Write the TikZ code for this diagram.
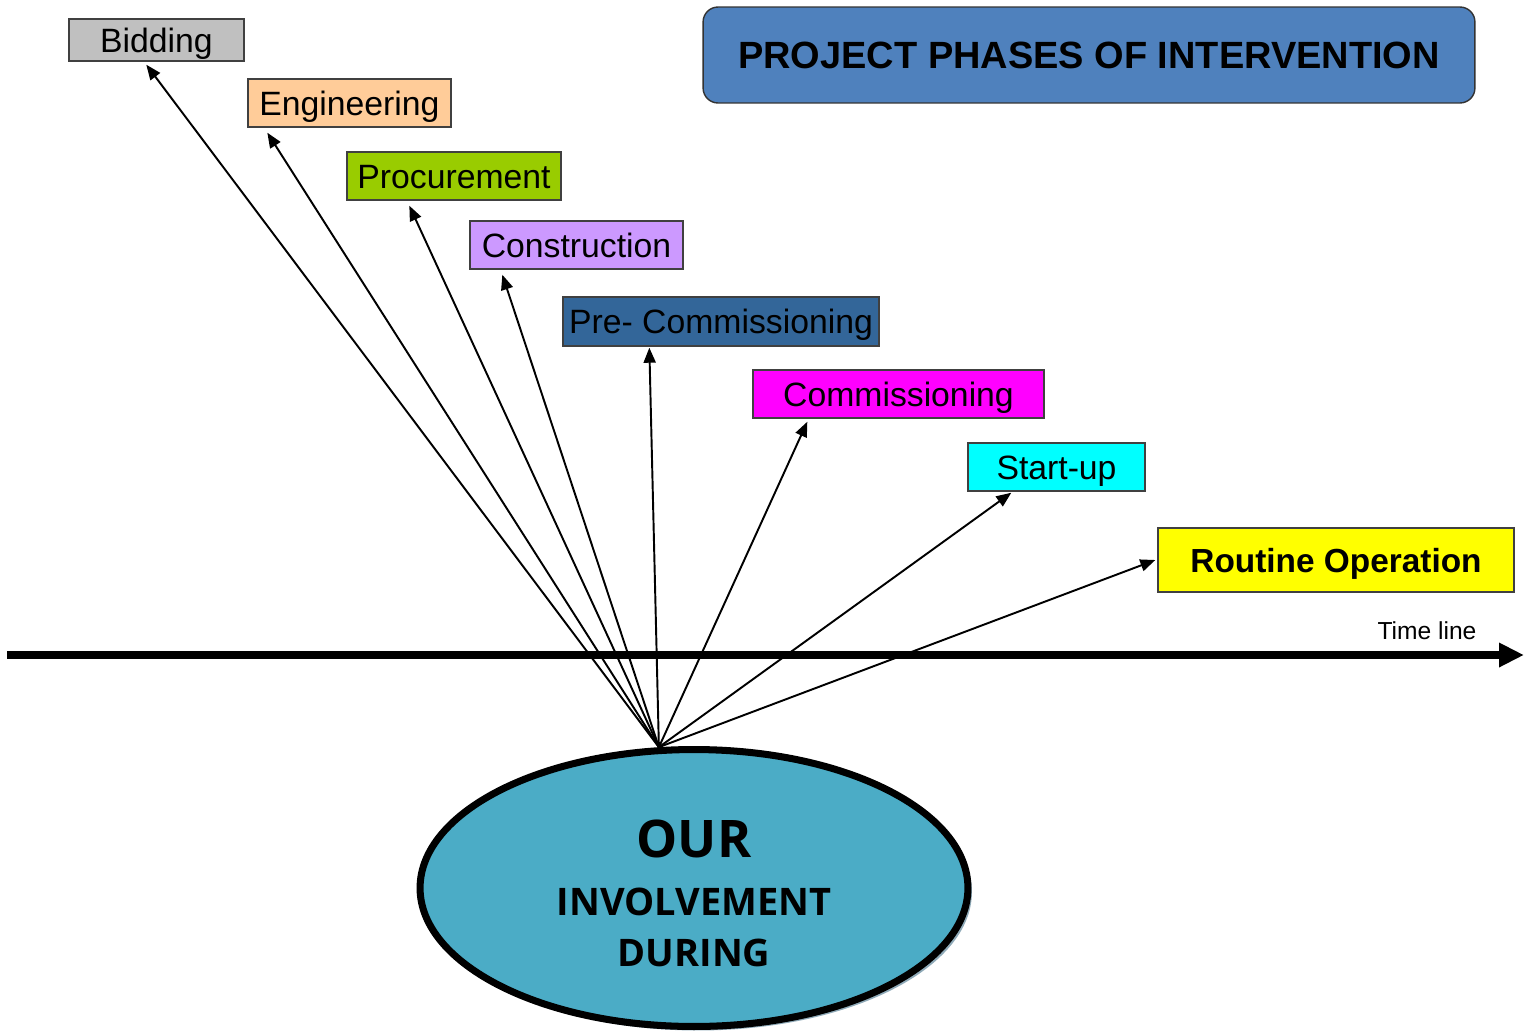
\documentclass[tikz,border=0pt]{standalone}
\usepackage{fontspec}
\setmainfont{Liberation Sans}
\newfontfamily\ourfont{Open Sans}
\usetikzlibrary{arrows.meta,shapes.geometric,shadows,calc}
\definecolor{cBid}{HTML}{C0C0C0}
\definecolor{cEng}{HTML}{FFCC99}
\definecolor{cProc}{HTML}{99CC00}
\definecolor{cCons}{HTML}{CC99FF}
\definecolor{cPre}{HTML}{336699}
\definecolor{cComm}{HTML}{FF00FF}
\definecolor{cStart}{HTML}{00FFFF}
\definecolor{cRout}{HTML}{FFFF00}
\definecolor{cTitle}{HTML}{4F81BD}
\definecolor{cOur}{HTML}{4BACC6}
\definecolor{cShadow}{HTML}{8FAAB8}
\definecolor{boxline}{HTML}{404040}
\pgfdeclarelayer{bg}
\pgfsetlayers{bg,main}
\begin{document}
\begin{tikzpicture}[x=0.02cm,y=-0.02cm,
  phase/.style={draw=boxline, line width=0.8pt, inner sep=0pt, text=black,
    text height=13.7pt, text depth=0pt,
    font=\fontsize{19.2}{21}\selectfont},
  link/.style={-{Triangle[length=0.3cm,width=0.24cm]}, line width=1.1pt},
  timeline/.style={-{Triangle[length=0.5cm,width=0.46cm]}, line width=4pt},
]
\useasboundingbox (0,0) rectangle (1525,1032);

% title
\node[draw=black!80, line width=0.8pt, fill=cTitle, rounded corners=0.3cm,
  minimum width=15.44cm, minimum height=1.92cm, inner sep=0pt,
  font=\bfseries\fontsize{21.6}{24}\selectfont] (title) at (1089,55)
  {PROJECT PHASES OF INTERVENTION};

% phases
\node[phase, fill=cBid,   minimum width=3.5cm,  minimum height=0.84cm] (bid)   at (156.5,40)  {Bidding};
\node[phase, fill=cEng,   minimum width=4.06cm, minimum height=0.96cm] (eng)   at (349.5,103) {Engineering};
\node[phase, fill=cProc,  minimum width=4.28cm, minimum height=0.96cm] (proc)  at (454,176)   {Procurement};
\node[phase, fill=cCons,  minimum width=4.26cm, minimum height=0.96cm] (cons)  at (576.5,245) {Construction};
\node[phase, fill=cPre,   minimum width=6.32cm, minimum height=0.98cm] (pre)   at (721,321.5) {Pre- Commissioning};
\node[phase, fill=cComm,  minimum width=5.82cm, minimum height=0.96cm] (comm)  at (898.5,394) {Commissioning};
\node[phase, fill=cStart, minimum width=3.54cm, minimum height=0.96cm] (start) at (1056.5,467){Start-up};
\node[phase, fill=cRout,  minimum width=7.12cm, minimum height=1.28cm,
  font=\bfseries\fontsize{19}{21}\selectfont] (rout) at (1336,560) {Routine Operation};

% ellipse
\node[ellipse, draw=black, line width=4pt, fill=cOur, inner sep=0pt,
  minimum width=10.96cm, minimum height=5.54cm,
  drop shadow={shadow xshift=0.08cm, shadow yshift=-0.08cm, fill=cShadow, opacity=1}]
  (our) at (694,888) {};
\node[align=center, inner sep=0pt, font=\ourfont\bfseries\fontsize{21.6}{29}\selectfont]
  (ourtxt) at ($(our.center)+(0,5)$)
  {{\fontsize{29.5}{29}\selectfont OUR}\\[4pt]INVOLVEMENT\\DURING};

% time line
\coordinate (tl0) at (7,655);
\coordinate (tl1) at (1524,655);
\draw[timeline] (tl0) -- (tl1);
\node[font=\fontsize{14}{16}\selectfont, inner sep=0pt] (tltext) at (1427,631) {Time line};

% arrows
\begin{pgfonlayer}{bg}
\coordinate (hub) at (our.104);
\draw[link] (hub) -- ($(bid.south west)+(78,3)$);
\draw[link] (hub) -- ($(eng.south west)+(20,5)$);
\draw[link] (hub) -- ($(proc.south west)+(63,5)$);
\draw[link] (hub) -- ($(cons.south west)+(33,5)$);
\draw[link] (hub) -- ($(pre.south west)+(87,1)$);
\draw[link] (hub) -- ($(comm.south west)+(55,3)$);
\draw[link] (hub) -- ($(start.south west)+(44,1)$);
\draw[link] (hub) -- ($(rout.west)+(-2,0)$);
\end{pgfonlayer}
\end{tikzpicture}
\end{document}
